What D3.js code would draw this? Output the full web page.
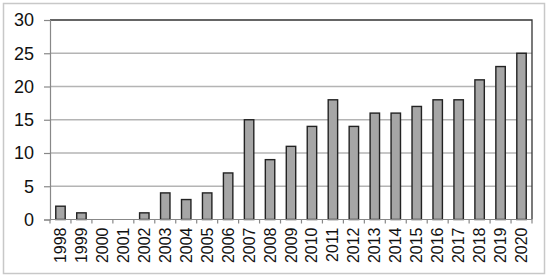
<!DOCTYPE html>
<html>
<head>
<meta charset="utf-8">
<script src="https://cdn.jsdelivr.net/npm/d3@7"></script>
<style>
  body { margin: 0; background: #fff; }
  svg { display: block; font-family: "Liberation Sans", Arial, sans-serif; }
</style>
</head>
<body>
<div id="chart"></div>
<script>
// datos
const years  = ["1998","1999","2000","2001","2002","2003","2004","2005","2006","2007","2008","2009",
                "2010","2011","2012","2013","2014","2015","2016","2017","2018","2019","2020"];
const counts = [2, 1, 0, 0, 1, 4, 3, 4, 7, 15, 9, 11, 14, 18, 14, 16, 16, 17, 18, 18, 21, 23, 25];
const yTicks = [0, 5, 10, 15, 20, 25, 30];

const W = 550, H = 278;
const m = { left: 50, right: 18, top: 20, bottom: 58.5 };

const svg = d3.select("#chart").append("svg")
  .attr("width", W)
  .attr("height", H);

// marco exterior
svg.append("rect")
  .attr("x", 3.5).attr("y", 3.5)
  .attr("width", 541).attr("height", 270)
  .attr("fill", "#fff")
  .attr("stroke", "#c8c8c8")
  .attr("stroke-width", 1.5);

const x = d3.scaleBand()
  .domain(years)
  .range([m.left, W - m.right])
  .paddingInner(0.55)
  .paddingOuter(0.275);

const y = d3.scaleLinear()
  .domain([0, 30])
  .range([H - m.bottom, m.top]);

// rejilla
svg.append("g")
  .selectAll("line")
  .data(yTicks.filter(t => t > 0 && t < 30))
  .join("line")
  .attr("x1", m.left).attr("x2", W - m.right)
  .attr("y1", d => y(d)).attr("y2", d => y(d))
  .attr("stroke", "#b4b4b4")
  .attr("stroke-width", 1.5);

// borde superior y derecho
svg.append("path")
  .attr("d", `M${m.left},${y(30)}H${W - m.right}V${y(0)}`)
  .attr("fill", "none")
  .attr("stroke", "#333")
  .attr("stroke-width", 1.3);

// barras
svg.append("g")
  .selectAll("rect")
  .data(counts)
  .join("rect")
  .attr("x", (d, i) => x(years[i]))
  .attr("width", x.bandwidth())
  .attr("y", d => y(d))
  .attr("height", d => y(0) - y(d))
  .attr("fill", "#a6a6a6")
  .attr("stroke", d => d > 0 ? "#222" : "none")
  .attr("stroke-width", 1.4);

// eje Y
const yAxis = d3.axisLeft(y)
  .tickValues(yTicks)
  .tickSize(6)
  .tickPadding(10);

svg.append("g")
  .attr("transform", `translate(${m.left},0)`)
  .call(yAxis)
  .call(g => g.selectAll("path,line").attr("stroke", "#888").attr("stroke-width", 1.2))
  .call(g => g.selectAll("text")
    .attr("font-size", 18)
    .attr("fill", "#111")
    .attr("font-family", "Liberation Sans, Arial, sans-serif"));

// eje X (marcas en los límites de categoría)
const bw = x.step();
const xg = svg.append("g");
xg.append("line")
  .attr("x1", m.left).attr("x2", W - m.right)
  .attr("y1", y(0)).attr("y2", y(0))
  .attr("stroke", "#888").attr("stroke-width", 1.2);

xg.selectAll("line.tick")
  .data(d3.range(years.length + 1))
  .join("line")
  .attr("class", "tick")
  .attr("x1", i => m.left + i * bw).attr("x2", i => m.left + i * bw)
  .attr("y1", y(0)).attr("y2", y(0) + 4)
  .attr("stroke", "#888").attr("stroke-width", 1.2);

xg.selectAll("text")
  .data(years)
  .join("text")
  .attr("transform", d => `translate(${x(d) + x.bandwidth() / 2 + 5.5},${y(0) + 8}) rotate(-90)`)
  .attr("text-anchor", "end")
  .attr("font-size", 16)
  .attr("fill", "#111")
  .text(d => d);
</script>
</body>
</html>
